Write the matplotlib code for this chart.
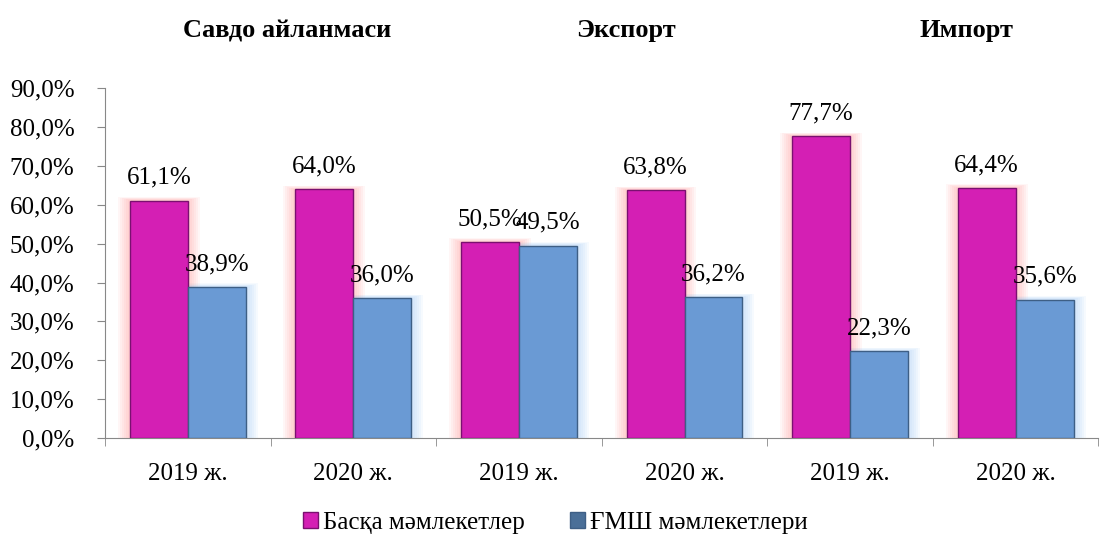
import numpy as np
import matplotlib.pyplot as plt
from matplotlib.patches import Patch
from matplotlib.ticker import FuncFormatter

plt.rcParams['font.family'] = ['Liberation Serif', 'DejaVu Serif']

categories = ['2019 ж.', '2020 ж.', '2019 ж.', '2020 ж.', '2019 ж.', '2020 ж.']
other = [61.1, 64.0, 50.5, 63.8, 77.7, 64.4]
cis = [38.9, 36.0, 49.5, 36.2, 22.3, 35.6]
groups = ['Савдо айланмаси', 'Экспорт', 'Импорт']
series = ['Басқа мәмлекетлер', 'ҒМШ мәмлекетлери']

pink = '#D41FB4'
blue = '#6A9AD4'
fs = 18

fig = plt.figure(figsize=(11.1, 5.38), dpi=100)
ax = fig.add_axes([0.0946, 0.186, 0.895, 0.65])

x = np.arange(len(categories))
w = 0.35


def comma(v):
    return f'{v:.1f}'.replace('.', ',') + '%'


# soft glow behind the bars
for k in range(6, 0, -1):
    pad = 0.012 * k
    ax.bar(x - w / 2, np.array(other) + pad * 12, w + 2 * pad, color='#FF8080',
           alpha=0.07, linewidth=0, zorder=1)
    ax.bar(x + w / 2, np.array(cis) + pad * 12, w + 2 * pad, color='#9CC8F5',
           alpha=0.09, linewidth=0, zorder=1)

b1 = ax.bar(x - w / 2, other, w, color=pink, edgecolor='#7A1070', linewidth=1.0, zorder=3)
b2 = ax.bar(x + w / 2, cis, w, color=blue, edgecolor='#3E5F85', linewidth=1.0, zorder=3)

for i in range(len(x)):
    ax.text(x[i] - w / 2, other[i] + 3, comma(other[i]), ha='center', va='bottom',
            fontsize=fs, zorder=5)
    ax.text(x[i] + w / 2, cis[i] + 3, comma(cis[i]), ha='center', va='bottom',
            fontsize=fs, zorder=5)

ax.set_xlim(-0.5, len(x) - 0.5)
ax.set_ylim(0, 90)
ax.set_yticks(np.arange(0, 91, 10))
ax.yaxis.set_major_formatter(FuncFormatter(lambda v, p: comma(v)))
ax.set_xticks(x)
ax.set_xticklabels(categories)
ax.set_xticks(np.arange(-0.5, len(x)), minor=True)
ax.tick_params(axis='x', which='major', length=0, pad=18, labelsize=fs)
ax.tick_params(axis='x', which='minor', length=6, color='#888888')
ax.tick_params(axis='y', length=6, color='#888888', labelsize=fs, pad=16)
for s in ['top', 'right']:
    ax.spines[s].set_visible(False)
ax.spines['left'].set_color('#888888')
ax.spines['bottom'].set_color('#888888')

title_x = [287, 626, 967]
for t, px in zip(groups, title_x):
    fig.text(px / 1110, 1 - 31 / 538, t, ha='center', va='center',
             fontsize=19, fontweight='bold')

handles = [Patch(facecolor=pink, edgecolor='#7A1070'), Patch(facecolor='#4A6F98', edgecolor='#3E5F85')]
fig.legend(handles, series, loc='center', bbox_to_anchor=(0.5, 1 - 523 / 538),
           ncol=2, frameon=False, fontsize=fs, handlelength=0.6, handleheight=0.6,
           handletextpad=0.2, columnspacing=1.8)

fig.savefig('out.png', dpi=100)
